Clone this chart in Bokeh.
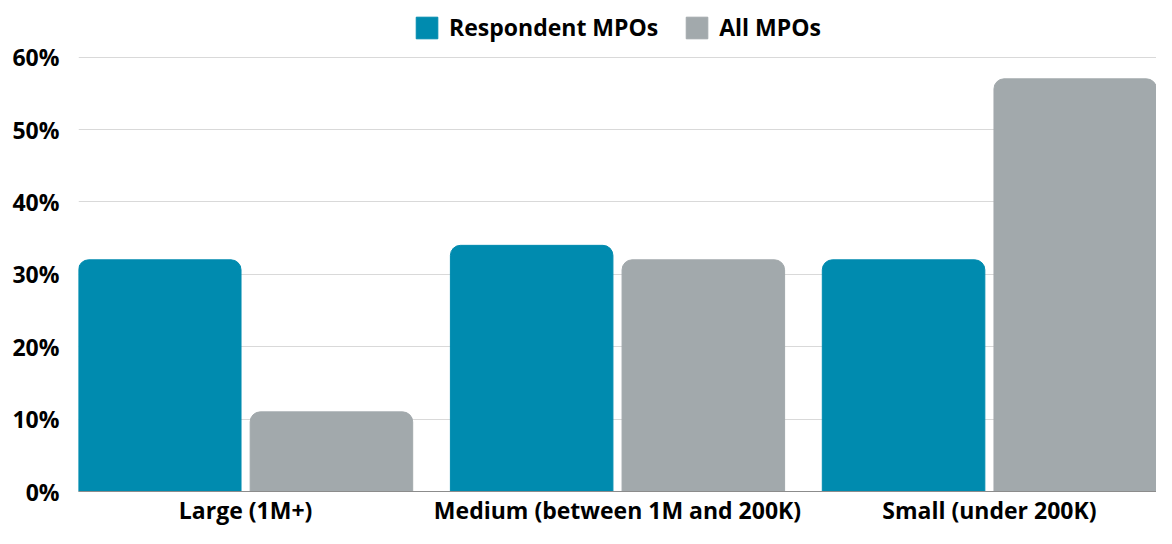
from bokeh.plotting import figure
from bokeh.models import Legend, LegendItem, FixedTicker, Range1d
from bokeh.embed import file_html
from bokeh.resources import INLINE

categories = ["Large (1M+)", "Medium (between 1M and 200K)", "Small (under 200K)"]
respondent = [32, 34, 32]
all_mpos = [11, 32, 57]
series_names = ["Respondent MPOs", "All MPOs"]
y_ticks = [0, 10, 20, 30, 40, 50, 60]

TEAL = "#008BAF"
GRAY = "#A2A9AC"
FONT = "Open Sans"

xs = list(range(len(categories)))
bw = 0.437
off = 0.2308

p = figure(width=1156, height=528, output_backend="svg", toolbar_location=None,
           x_range=Range1d(-off - bw / 2, len(categories) - 1 + off + bw / 2),
           y_range=Range1d(0, 66.3),
           min_border_left=78, min_border_right=0, min_border_top=11, min_border_bottom=0)

r1 = p.vbar(x=[x - off for x in xs], top=respondent, width=bw, color=TEAL,
            border_radius=(10, 10, 0, 0))
r2 = p.vbar(x=[x + off for x in xs], top=all_mpos, width=bw, color=GRAY,
            border_radius=(10, 10, 0, 0))

p.xaxis.ticker = FixedTicker(ticks=xs)
p.xaxis.major_label_overrides = {i: c for i, c in enumerate(categories)}
p.yaxis.ticker = FixedTicker(ticks=y_ticks)
p.yaxis.major_label_overrides = {v: f"{v}%" for v in y_ticks}

for ax in (p.xaxis[0], p.yaxis[0]):
    ax.major_label_text_font = FONT
    ax.major_label_text_font_style = "bold"
    ax.major_label_text_font_size = "23px"
    ax.major_label_text_color = "#000000"
    ax.major_tick_line_color = None
    ax.minor_tick_line_color = None
    ax.major_tick_out = 0
    ax.major_tick_in = 0
    ax.minor_tick_out = 0
    ax.minor_tick_in = 0

p.yaxis.axis_line_color = None
p.yaxis.major_label_standoff = 19
p.xaxis.axis_line_color = "#8c8c8c"
p.xaxis.major_label_standoff = 2

p.xgrid.grid_line_color = None
p.ygrid.grid_line_color = "#d9d9d9"
p.ygrid.grid_line_width = 1
p.outline_line_color = None

legend = Legend(items=[LegendItem(label=series_names[0], renderers=[r1]),
                       LegendItem(label=series_names[1], renderers=[r2])],
                orientation="horizontal", location="top_center",
                glyph_width=27, glyph_height=27, spacing=25,
                label_text_font=FONT, label_text_font_style="bold",
                label_text_font_size="23px", label_text_color="#000000",
                label_standoff=9, padding=2, margin=0, border_line_color=None,
                background_fill_alpha=0)
p.add_layout(legend, "center")

open("out.html", "w").write(file_html(p, INLINE))
